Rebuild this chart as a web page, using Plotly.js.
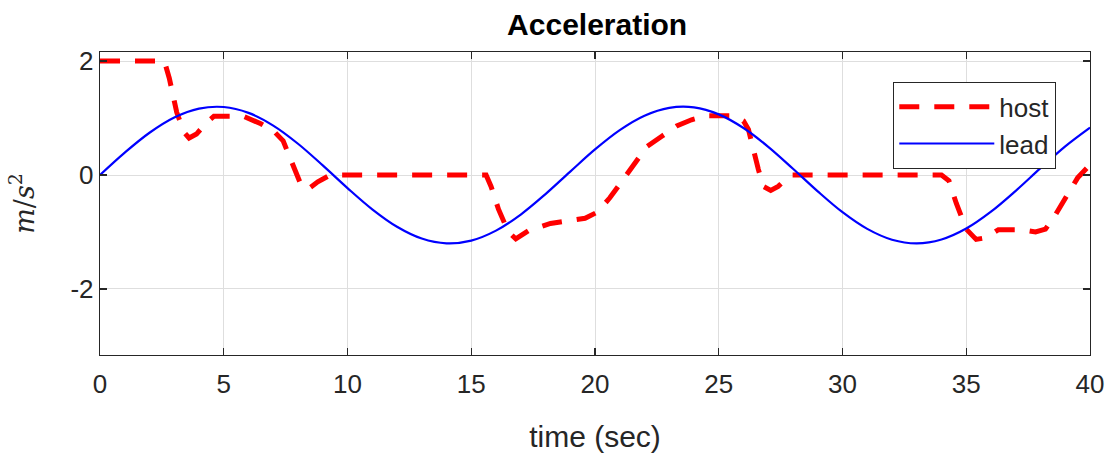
<!DOCTYPE html>
<html>
<head>
<meta charset="utf-8">
<script src="https://cdn.plot.ly/plotly-3.0.1.min.js"></script>
<style>
html,body{margin:0;padding:0;background:#fff;}
#chart{width:1112px;height:453px;}
</style>
</head>
<body>
<div id="chart"></div>
<script>
// time (sec) and acceleration (m/s^2)
const leadTime = [0,1,2,3,4,5,6,7,8,9,10,11,12,13,14,15,16,17,18,19,20,21,22,23,24,25,26,27,28,29,30,31,32,33,34,35,36,37,38,39,40];
const leadAccel = [0,0.393,0.742,1.010,1.166,1.194,1.091,0.868,0.549,0.169,-0.229,-0.602,-0.908,-1.115,-1.199,-1.151,-0.976,-0.694,-0.335,0.060,0.449,0.788,1.041,1.179,1.187,1.065,0.825,0.495,0.110,-0.287,-0.653,-0.946,-1.136,-1.200,-1.132,-0.940,-0.644,-0.277,0.120,0.504,0.833];

const hostTime = [0,2.6,2.8,3.1,3.4,3.6,3.9,4.3,4.6,5.8,6.5,7.0,7.4,7.8,8.1,8.4,8.8,9.3,15.6,15.8,16.1,16.5,16.8,17.3,18.2,19.6,20.1,20.6,21.2,21.6,22.1,22.7,23.3,23.9,24.5,25.6,26.0,26.2,26.4,26.6,26.8,27.1,27.4,27.9,34.0,34.3,34.6,35.0,35.4,35.8,36.3,37.2,37.8,38.2,38.6,39.0,39.5,40];
const hostAccel = [2.0,2.0,1.7,1.1,0.75,0.65,0.72,0.92,1.03,1.03,0.9,0.78,0.6,0.2,-0.15,-0.25,-0.12,0,0,-0.2,-0.6,-1.0,-1.12,-0.98,-0.85,-0.76,-0.65,-0.4,-0.03,0.22,0.5,0.68,0.86,0.97,1.04,1.04,0.95,0.8,0.4,0.1,-0.2,-0.27,-0.2,0,0,-0.1,-0.5,-0.95,-1.13,-1.1,-0.96,-0.96,-1.0,-0.95,-0.7,-0.4,-0.05,0.18];

const seriesNames = ['host','lead'];
const xTicks = [0,5,10,15,20,25,30,35,40];
const yTicks = [-2,0,2];

const FONT = 'Liberation Sans, Arial, Helvetica, sans-serif';
const INK = '#262626';

const traces = [
  {x: hostTime, y: hostAccel, name: seriesNames[0], mode: 'lines',
   line: {color: '#ff0000', width: 5, dash: '20px,15px'}},
  {x: leadTime, y: leadAccel, name: seriesNames[1], mode: 'lines',
   line: {color: '#0000ff', width: 2.2, shape: 'spline'}}
];

const axisCommon = {
  showline: true, linecolor: INK, linewidth: 1.3, mirror: 'ticks',
  ticks: 'inside', ticklen: 7, tickwidth: 1.3, tickcolor: INK,
  showgrid: true, gridcolor: '#dedede', gridwidth: 1,
  zeroline: false, tickfont: {family: FONT, size: 26, color: INK}
};

const layout = {
  width: 1112, height: 453,
  paper_bgcolor: '#fff', plot_bgcolor: '#fff',
  margin: {l: 100, r: 22, t: 52, b: 98},
  showlegend: true,
  title: {text: '<b>Acceleration</b>', font: {family: FONT, size: 30, color: '#000'},
          x: 0.537, xanchor: 'center', y: 0.947, yanchor: 'middle'},
  xaxis: Object.assign({}, axisCommon, {
    range: [0, 40], tickvals: xTicks, ticktext: xTicks.map(String),
    ticklabelstandoff: 5,
    title: {text: 'time (sec)', font: {family: FONT, size: 30, color: INK}, standoff: 30}
  }),
  yaxis: Object.assign({}, axisCommon, {
    range: [-3.16, 2.16], tickvals: yTicks, ticktext: yTicks.map(String),
    title: {text: '<i>m</i>/<i>s</i><sup>2</sup>', font: {family: 'DejaVu Serif, Liberation Serif, serif', size: 27, color: INK}, standoff: 28}
  }),
  legend: {
    x: 0.801, y: 0.901, xanchor: 'left', yanchor: 'top',
    bgcolor: '#fff', bordercolor: INK, borderwidth: 1.3,
    font: {family: FONT, size: 26, color: INK},
    itemwidth: 95, tracegroupgap: 0
  }
};

Plotly.newPlot('chart', traces, layout, {staticPlot: true, displayModeBar: false});
</script>
</body>
</html>
